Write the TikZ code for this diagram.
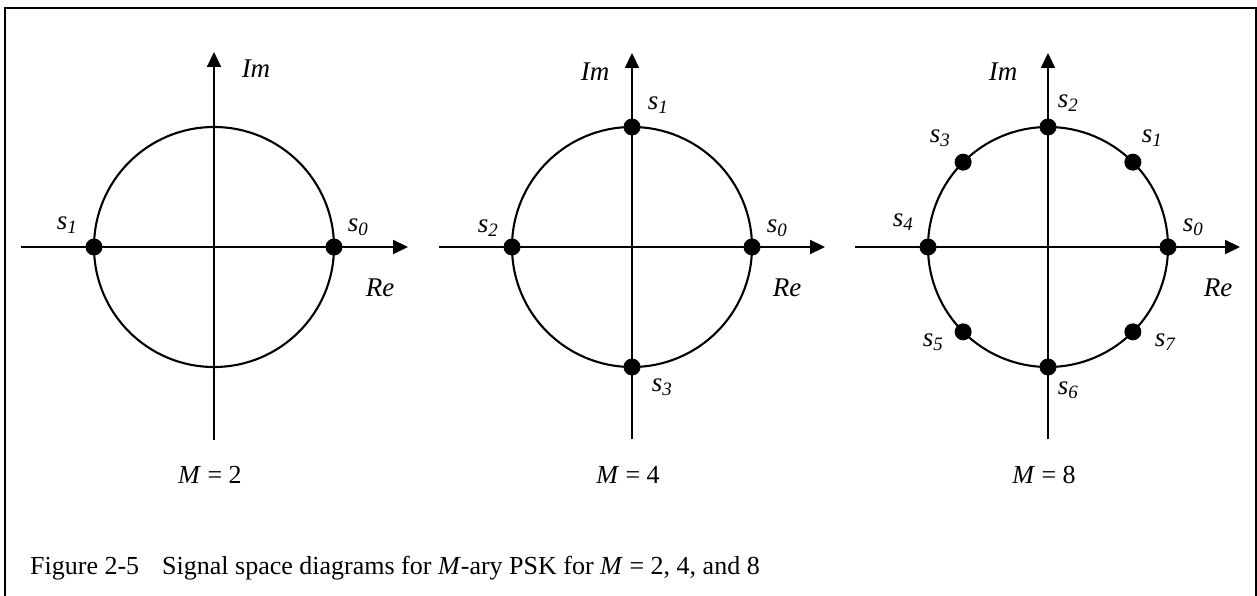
\documentclass[tikz,border=0pt]{standalone}
\usepackage{fontspec}
\setmainfont{Liberation Serif}
\usetikzlibrary{arrows.meta,calc}

\begin{document}
\begin{tikzpicture}[
    x=1pt,
    y=-1pt,
    axis/.style={
        line width=2.1pt,
        -{Triangle[length=15pt,width=14pt]}
    },
    ring/.style={
        line width=2.1pt
    },
    point/.style={
        circle,
        fill,
        inner sep=0pt,
        minimum size=17pt
    },
    sig/.style={
        inner sep=0pt,
        font=\fontsize{27}{30}\selectfont\itshape
    },
    order/.style={
        inner sep=0pt,
        font=\fontsize{26}{30}\selectfont
    },
    caption/.style={
        anchor=base west,
        inner sep=0pt,
        font=\fontsize{26}{30}\selectfont
    }
]
\useasboundingbox (0,0) rectangle (1257,596);

% frame
\coordinate (FL) at (5,620);
\coordinate (TL) at (5,8);
\coordinate (TR) at (1256,8);
\coordinate (FR) at (1256,620);
\draw[line width=2.4pt] (FL) -- (TL) -- (TR) -- (FR);

% M = 2
\coordinate (O1) at (214,247);
\coordinate (W1) at (21,247);
\coordinate (E1) at (408,247);
\coordinate (N1) at (214,52);
\coordinate (S1) at (214,440);
\draw[ring] (O1) circle[radius=120];
\draw[axis] (W1) -- (E1);
\draw[axis] (S1) -- (N1);
\node[point] (a0) at ($(O1)+(0:120)$) {};
\node[point] (a1) at ($(O1)+(180:120)$) {};
\node[sig] (la0) at ($(O1)+(144,-20)$) {s\textsubscript{0}};
\node[sig] (la1) at ($(O1)+(-147,-22)$) {s\textsubscript{1}};
\node[sig] (im1) at ($(O1)+(42,-178)$) {Im};
\node[sig] (re1) at ($(O1)+(166,41)$) {Re};
\node[order] (m2) at ($(O1)+(-4,228)$) {\textit{M} = 2};

% M = 4
\coordinate (O2) at (632,247);
\coordinate (W2) at (439,247);
\coordinate (E2) at (825,247);
\coordinate (N2) at (632,53);
\coordinate (S2) at (632,439);
\draw[ring] (O2) circle[radius=120];
\draw[axis] (W2) -- (E2);
\draw[axis] (S2) -- (N2);
\foreach \k in {0,...,3}
    \node[point] (b\k) at ($(O2)+(-\k*90:120)$) {};
\node[sig] (lb0) at ($(O2)+(145,-19)$) {s\textsubscript{0}};
\node[sig] (lb1) at ($(O2)+(26,-142)$) {s\textsubscript{1}};
\node[sig] (lb2) at ($(O2)+(-144,-19)$) {s\textsubscript{2}};
\node[sig] (lb3) at ($(O2)+(30,140)$) {s\textsubscript{3}};
\node[sig] (im2) at ($(O2)+(-37,-175)$) {Im};
\node[sig] (re2) at ($(O2)+(155,41)$) {Re};
\node[order] (m4) at ($(O2)+(-4,228)$) {\textit{M} = 4};

% M = 8
\coordinate (O3) at (1048,247);
\coordinate (W3) at (855,247);
\coordinate (E3) at (1240,247);
\coordinate (N3) at (1048,53);
\coordinate (S3) at (1048,439);
\draw[ring] (O3) circle[radius=120];
\draw[axis] (W3) -- (E3);
\draw[axis] (S3) -- (N3);
\foreach \k in {0,...,7}
    \node[point] (c\k) at ($(O3)+(-\k*45:120)$) {};
\node[sig] (lc0) at ($(O3)+(145,-20)$) {s\textsubscript{0}};
\node[sig] (lc1) at ($(O3)+(104,-109)$) {s\textsubscript{1}};
\node[sig] (lc2) at ($(O3)+(20,-144)$) {s\textsubscript{2}};
\node[sig] (lc3) at ($(O3)+(-108,-109)$) {s\textsubscript{3}};
\node[sig] (lc4) at ($(O3)+(-145,-25)$) {s\textsubscript{4}};
\node[sig] (lc5) at ($(O3)+(-115,95)$) {s\textsubscript{5}};
\node[sig] (lc6) at ($(O3)+(20,143)$) {s\textsubscript{6}};
\node[sig] (lc7) at ($(O3)+(117,95)$) {s\textsubscript{7}};
\node[sig] (im3) at ($(O3)+(-45,-175)$) {Im};
\node[sig] (re3) at ($(O3)+(170,41)$) {Re};
\node[order] (m8) at ($(O3)+(-4,228)$) {\textit{M} = 8};

% caption
\node[caption] (fig) at (30,574) {Figure 2-5};
\node[caption] (cap) at (162,574) {Signal space diagrams for \textit{M}-ary PSK for \textit{M} = 2, 4, and 8};
\end{tikzpicture}
\end{document}
